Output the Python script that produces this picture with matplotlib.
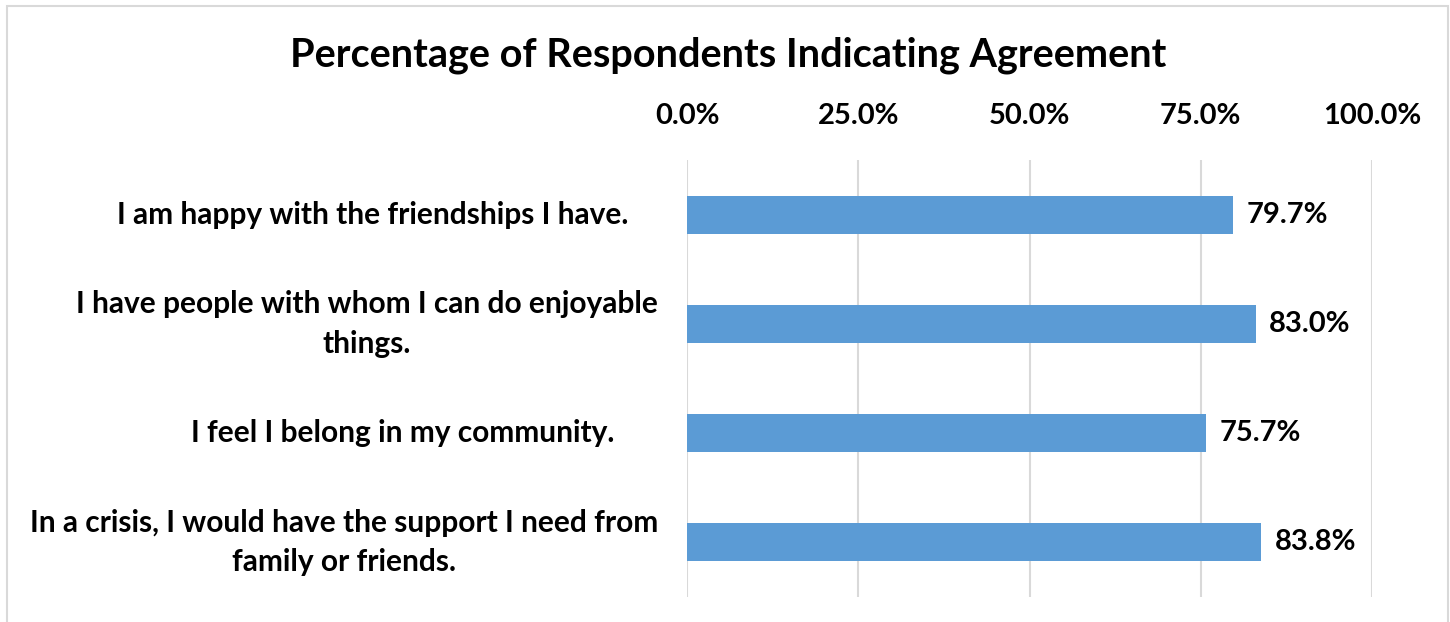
import matplotlib
matplotlib.use("Agg")
import matplotlib.pyplot as plt
from matplotlib.patches import Rectangle

# données du graphique
categories = [
    "I am happy with the friendships I have.    ",
    "I have people with whom I can do enjoyable\nthings.",
    "I feel I belong in my community.      ",
    "In a crisis, I would have the support I need from\nfamily or friends.",
]
values = [79.7, 83.0, 75.7, 83.8]
ticks = [0, 25, 50, 75, 100]
tick_labels = ["0.0%", "25.0%", "50.0%", "75.0%", "100.0%"]

plt.rcParams['font.family'] = ['Lato', 'DejaVu Sans']
plt.rcParams['font.weight'] = 'bold'

fig = plt.figure(figsize=(14.5, 6.22), dpi=100)
ax = fig.add_axes([687 / 1450, 25 / 622, 685 / 1450, 437 / 622])

y = list(range(len(categories)))
ax.barh(y, values, height=0.35, color='#5B9BD5', zorder=3)
for yi, v in zip(y, values):
    ax.text(v + 2.0, yi, f"{v:.1f}%", va='center', ha='left',
            fontsize=21, fontweight='bold', color='black')

ax.set_xlim(0, 100)
ax.set_ylim(3.5, -0.5)
ax.set_xticks(ticks)
ax.set_xticklabels(tick_labels, fontsize=21, fontweight='bold')
ax.xaxis.tick_top()
ax.tick_params(axis='x', length=0, pad=22)
ax.set_yticks(y)
ax.set_yticklabels(categories, fontsize=21.5, fontweight='bold', multialignment='center',
                   linespacing=1.5, va='center')
ax.tick_params(axis='y', length=0, pad=21)
ax.grid(axis='x', color='#D9D9D9', linewidth=1.5, zorder=0)
for s in ax.spines.values():
    s.set_visible(False)

fig.text(728 / 1450, 1 - 55 / 622, "Percentage of Respondents Indicating Agreement",
         ha='center', va='center', fontsize=28.5, fontweight='bold')

# cadre gris
fig.patches.append(Rectangle((7 / 1450, -0.05), 1441 / 1450, 1.05 - 6 / 622,
                             transform=fig.transFigure, fill=False,
                             edgecolor='#D9D9D9', linewidth=1.5))

fig.savefig("out.png", dpi=100)
